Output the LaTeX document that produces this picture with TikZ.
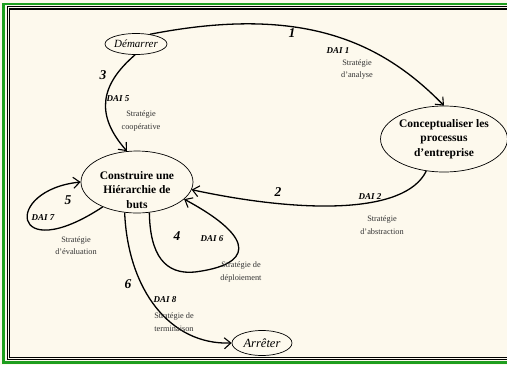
\documentclass[tikz,border=0pt]{standalone}
\usepackage{fontspec}
\setmainfont{Liberation Serif}
\usetikzlibrary{shapes.geometric,arrows.meta}
\definecolor{paper}{HTML}{FDF9ED}
\definecolor{framegreen}{HTML}{1E9E1E}
\definecolor{notegray}{HTML}{333333}

\begin{document}
\begin{tikzpicture}[x=1pt,y=-1pt,
  stage/.style={ellipse, draw, line width=0.7pt, inner sep=0pt, align=center},
  endpoint/.style={stage, font=\fontsize{11}{13}\selectfont\itshape},
  process/.style={stage, font=\fontsize{11.5}{14.5}\selectfont\bfseries},
  ptext/.style={inner sep=0pt, align=center, font=\fontsize{11.5}{14.5}\selectfont\bfseries},
  flow/.style={line width=1.3pt, -{Straight Barb[length=6.5pt,width=11pt,line width=1.1pt]}},
  num/.style={inner sep=0pt, font=\fontsize{13.5}{14}\selectfont\bfseries\itshape},
  dai/.style={inner sep=0pt, font=\fontsize{9}{10}\selectfont\bfseries\itshape},
  note/.style={inner sep=0pt, align=center, text=notegray, font=\fontsize{8.3}{12.5}\selectfont}
]
\useasboundingbox (0,0) rectangle (507,365);
\fill[paper] (0,0) rectangle (507,365);

% page frame: green outer rule and two black inner rules, open to the right
\begin{scope}
  \clip (0,0) rectangle (507,365);
  \draw[framegreen, line width=2.2pt] (3.5,4.2) rectangle (600,362.5);
  \draw[black, line width=0.9pt] (7.2,6.8) rectangle (600,359.8);
  \draw[black, line width=1.1pt] (9.8,9) rectangle (600,357.4);
\end{scope}

% stages
\node[endpoint, minimum width=62, minimum height=21] (dem) at (136,44) {Démarrer};
\node[process, minimum width=120, minimum height=66] (conc) at (444,139)
  {Conceptualiser les\\processus\\d’entreprise};
\node[stage, minimum width=112, minimum height=62] (cons) at (137,182) {};
\node[ptext] (consText) at (137,190) {Construire une\\Hiérarchie de\\buts};
\node[endpoint, minimum width=60, minimum height=25, font=\fontsize{12.5}{14}\selectfont\itshape]
  (arr) at (262,343) {Arrêter};

% 1: analysis
\draw[flow] (dem.35) .. controls (300,5) and (380,40) .. (conc.north);
\node[num] (n1) at (292,33) {1};
\node[dai] (d1) at (338,51) {DAI 1};
\node[note] (s1) at (357,69.5) {Stratégie\\d’analyse};

% 2: abstraction
\draw[flow] (conc.241) .. controls (405,215) and (300,213) .. (cons.352);
\node[num] (n2) at (278,192) {2};
\node[dai] (d2) at (370,197) {DAI 2};
\node[note] (s2) at (382,225) {Stratégie\\d’abstraction};

% 3: cooperation
\draw[flow] (dem.265) .. controls (100,85) and (95,115) .. (cons.108);
\node[num] (n3) at (103,75) {3};
\node[dai] (d3) at (118,99) {DAI 5};
\node[note] (s3) at (141,121) {Stratégie\\coopérative};

% 5: evaluation loop
\draw[flow] (cons.216) .. controls (10,268) and (3,190) .. (cons.180);
\node[num] (n5) at (68,200) {5};
\node[dai] (d5) at (43,218) {DAI 7};
\node[note] (s5) at (76,245.5) {Stratégie\\d’évaluation};

% 4: deployment loop
\draw[flow] (cons.292) .. controls (150,255) and (165,275) .. (195,272)
  .. controls (250,265) and (260,240) .. (cons.340);
\node[num] (n4) at (177,236) {4};
\node[dai] (d4) at (212,239) {DAI 6};
\node[note] (s4) at (241,272) {Stratégie de\\déploiement};

% 6: termination
\draw[flow] (cons.248) .. controls (128,290) and (170,345) .. (arr.west);
\node[num] (n6) at (128,284) {6};
\node[dai] (d6) at (165,300) {DAI 8};
\node[note] (s6) at (174,322) {Stratégie de\\terminaison};
\end{tikzpicture}
\end{document}
